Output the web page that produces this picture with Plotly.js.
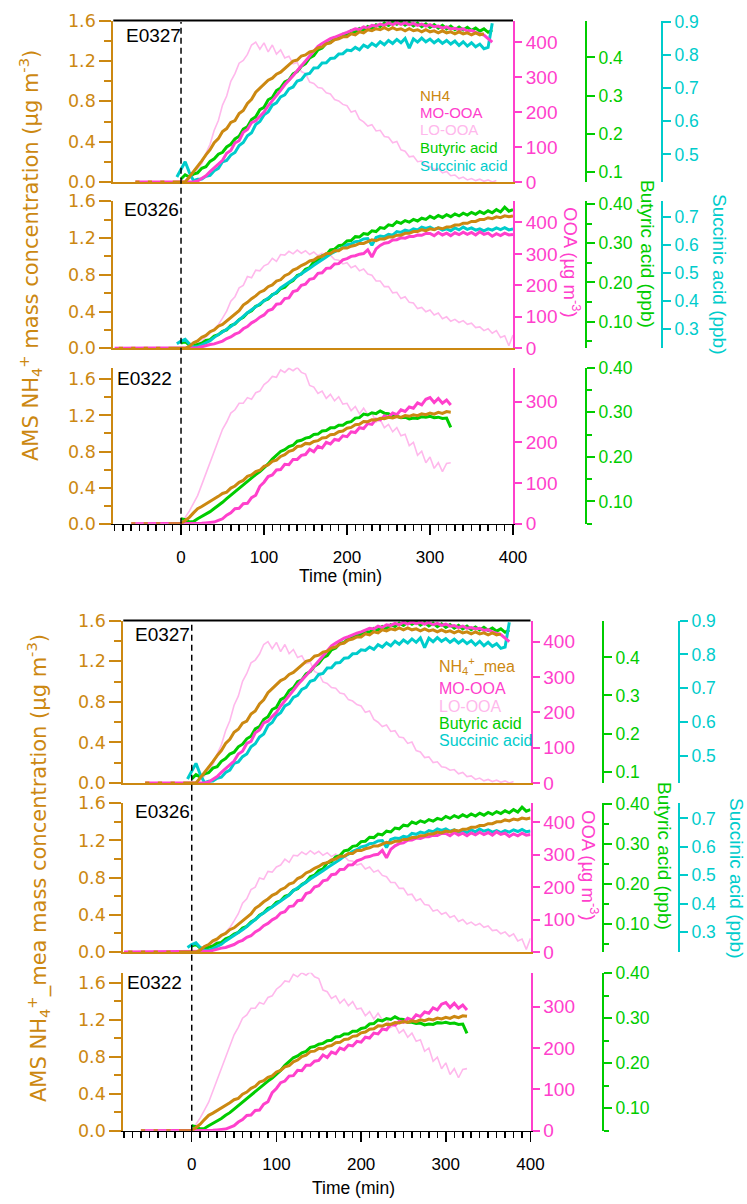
<!DOCTYPE html>
<html><head><meta charset="utf-8">
<script src="https://cdn.plot.ly/plotly-3.0.1.min.js"></script>
<style>html,body{margin:0;padding:0;background:#fff}#chart{width:747px;height:1204px}</style>
</head><body><div id="chart"></div>
<script>
const _ = null;
// time axis (min): -80..400 in 5-min steps
const TIME = [-80,-75,-70,-65,-60,-55,-50,-45,-40,-35,-30,-25,-20,-15,-10,-5,
 0,5,10,15,20,25,30,35,40,45,
 50,55,60,65,70,75,80,85,90,95,
 100,105,110,115,120,125,130,135,140,145,
 150,155,160,165,170,175,180,185,190,195,
 200,205,210,215,220,225,230,235,240,245,
 250,255,260,265,270,275,280,285,290,295,
 300,305,310,315,320,325,330,335,340,345,
 350,355,360,365,370,375,380,385,390,395,
 400];

// ---------- E0327 ----------
const E0327_NH4 = [_,_,_,_,_,0,0,_,0,0,_,0,0,_,0,0,
 0,0,0.05,0.10,0.16,0.21,0.27,0.32,0.39,0.43,
 0.50,0.53,0.59,0.61,0.68,0.71,0.78,0.82,0.89,0.93,
 0.97,1.01,1.03,1.07,1.09,1.13,1.16,1.20,1.21,1.25,
 1.26,1.29,1.30,1.33,1.34,1.37,1.38,1.41,1.42,1.44,
 1.44,1.47,1.46,1.49,1.48,1.51,1.50,1.52,1.51,1.53,
 1.51,1.53,1.51,1.52,1.50,1.52,1.50,1.51,1.49,1.51,
 1.49,1.50,1.48,1.50,1.48,1.49,1.47,1.49,1.47,1.48,
 1.46,1.48,1.46,1.47,_,_,_,_,_,_,
 _];
const E0327_MO = [_,_,_,_,_,0,0,0,0,0,0,0,0,0,0,0,
 0,0,0,0,3,10,18,30,40,52,
 62,82,90,112,118,142,150,170,175,188,
 200,218,232,248,262,278,290,304,318,332,
 346,362,374,388,396,404,410,414,420,424,
 428,434,438,436,444,440,448,446,452,448,
 455,450,456,451,455,450,454,448,452,446,
 450,444,446,440,444,438,440,436,438,432,
 434,428,425,420,410,400,_,_,_,_,
 _];
const E0327_LO = [_,_,_,_,_,_,_,_,_,_,_,_,_,_,_,_,
 0,0,8,20,38,52,82,108,148,176,
 220,246,288,310,340,348,365,392,400,380,
 398,372,392,366,378,355,360,338,342,316,
 310,286,282,270,268,255,252,236,232,222,
 218,200,204,180,172,160,164,146,148,130,
 128,112,116,92,88,72,74,58,60,46,
 44,36,38,26,30,18,20,10,14,6,
 10,4,8,2,6,0,4,_,_,_,
 _];
const E0327_BUT = [_,_,_,_,_,_,_,_,_,_,_,_,_,_,_,_,
 0.081,0.092,0.086,0.094,0.097,0.109,0.113,0.127,0.134,0.146,
 0.151,0.165,0.172,0.186,0.193,0.212,0.218,0.237,0.244,0.263,
 0.269,0.289,0.295,0.313,0.320,0.336,0.341,0.357,0.363,0.377,
 0.384,0.399,0.405,0.420,0.425,0.437,0.439,0.450,0.452,0.461,
 0.460,0.470,0.466,0.476,0.472,0.481,0.476,0.486,0.481,0.490,
 0.484,0.493,0.487,0.494,0.485,0.492,0.483,0.490,0.481,0.488,
 0.479,0.486,0.477,0.484,0.475,0.482,0.473,0.480,0.472,0.479,
 0.471,0.477,0.469,0.475,0.466,0.472,_,_,_,_,
 _];
const E0327_SUC = [_,_,_,_,_,_,_,_,_,_,_,_,_,_,_,0.432,
 0.456,0.478,0.446,0.421,0.425,0.426,0.434,0.437,0.451,0.458,
 0.478,0.482,0.498,0.506,0.527,0.536,0.556,0.565,0.590,0.599,
 0.619,0.628,0.648,0.655,0.673,0.679,0.697,0.703,0.721,0.725,
 0.741,0.744,0.760,0.761,0.775,0.776,0.789,0.790,0.802,0.803,
 0.814,0.812,0.822,0.815,0.829,0.822,0.834,0.826,0.839,0.830,
 0.843,0.834,0.846,0.836,0.849,0.820,0.848,0.838,0.850,0.839,
 0.847,0.836,0.845,0.834,0.843,0.832,0.841,0.828,0.839,0.826,
 0.836,0.824,0.832,0.818,0.822,0.895,_,_,_,_,
 _];

// ---------- E0326 ----------
const E0326_NH4 = [_,0,0,_,0,0,_,0,0,_,0,0,_,0,0,0,
 0,0,0.02,0.06,0.08,0.12,0.14,0.18,0.20,0.24,
 0.26,0.30,0.33,0.38,0.41,0.47,0.50,0.54,0.57,0.61,
 0.63,0.67,0.69,0.73,0.745,0.79,0.81,0.85,0.87,0.90,
 0.92,0.95,0.96,0.99,1.00,1.03,1.03,1.06,1.06,1.09,
 1.09,1.11,1.12,1.14,1.14,1.16,1.18,1.17,1.19,1.19,
 1.21,1.21,1.23,1.23,1.25,1.25,1.27,1.27,1.29,1.28,
 1.30,1.29,1.31,1.30,1.32,1.32,1.34,1.34,1.36,1.36,
 1.38,1.38,1.40,1.40,1.42,1.41,1.43,1.42,1.44,1.43,
 1.44];
const E0326_MO = [0,0,0,0,0,0,0,0,0,0,0,0,0,0,0,0,
 0,0,0,0,2,5,9,12,14,19,
 23,31,36,45,50,62,69,81,88,99,
 106,120,124,140,142,158,160,180,184,200,
 204,219,222,238,240,254,255,268,269,281,
 285,292,294,299,301,313,290,316,327,334,
 336,344,345,351,350,355,355,360,359,365,
 365,358,368,360,366,358,367,361,369,362,
 368,360,370,362,366,356,364,358,366,360,
 362];
const E0326_LO = [_,_,_,_,_,_,_,_,_,_,_,_,_,_,_,_,
 _,_,0,9,14,23,37,47,61,75,
 96,118,150,164,192,200,228,224,248,246,
 262,268,286,276,298,296,308,300,312,302,
 310,298,306,294,302,290,296,282,280,268,
 272,256,262,246,252,236,232,214,214,196,
 196,176,178,158,164,146,144,126,130,116,
 122,106,112,94,100,86,92,82,88,76,
 80,66,68,56,62,48,56,34,40,8,
 42];
const E0326_BUT = [_,_,_,_,_,_,_,_,_,_,_,_,_,_,_,_,
 0.045,0.049,0.040,0.039,0.042,0.045,0.052,0.054,0.063,0.067,
 0.075,0.079,0.090,0.094,0.105,0.111,0.122,0.128,0.139,0.143,
 0.154,0.158,0.169,0.173,0.184,0.188,0.199,0.205,0.218,0.222,
 0.234,0.238,0.253,0.256,0.268,0.271,0.283,0.285,0.294,0.296,
 0.306,0.307,0.317,0.316,0.325,0.323,0.332,0.330,0.340,0.338,
 0.347,0.345,0.355,0.351,0.358,0.354,0.361,0.357,0.364,0.361,
 0.369,0.364,0.371,0.366,0.373,0.368,0.375,0.370,0.377,0.372,
 0.379,0.374,0.381,0.376,0.383,0.378,0.386,0.380,0.392,0.382,
 0.386];
const E0326_SUC = [_,_,_,_,_,_,_,_,_,_,_,_,_,_,_,0.247,
 0.257,0.263,0.247,0.236,0.237,0.243,0.250,0.258,0.270,0.279,
 0.288,0.298,0.309,0.320,0.331,0.345,0.358,0.368,0.380,0.389,
 0.401,0.409,0.421,0.431,0.446,0.455,0.467,0.476,0.487,0.496,
 0.507,0.516,0.527,0.536,0.547,0.556,0.567,0.574,0.584,0.590,
 0.600,0.603,0.611,0.613,0.621,0.622,0.598,0.626,0.631,0.629,
 0.637,0.634,0.647,0.644,0.652,0.648,0.657,0.653,0.663,0.658,
 0.663,0.655,0.660,0.652,0.657,0.650,0.660,0.653,0.663,0.655,
 0.660,0.652,0.657,0.650,0.657,0.652,0.660,0.654,0.661,0.653,
 0.656];

// ---------- E0322 ----------
const E0322_NH4 = [_,_,_,_,0,0,_,0,0,_,0,0,_,0,0,0,
 0,0.035,0.07,0.12,0.166,0.19,0.216,0.242,0.277,0.303,
 0.335,0.35,0.395,0.418,0.458,0.48,0.525,0.54,0.578,0.592,
 0.635,0.652,0.69,0.704,0.745,0.764,0.802,0.816,0.855,0.86,
 0.89,0.885,0.912,0.92,0.95,0.955,0.987,0.99,1.02,1.027,
 1.058,1.067,1.097,1.102,1.133,1.131,1.152,1.149,1.169,1.164,
 1.18,1.171,1.188,1.178,1.198,1.19,1.207,1.198,1.218,1.208,
 1.225,1.214,1.235,1.222,1.242,1.236,_,_,_,_,
 _,_,_,_,_,_,_,_,_,_,
 _];
const E0322_MO = [_,_,_,_,0,0,0,0,0,0,0,0,0,0,0,0,
 0,0,0,0,0,1,2,3,4,8,
 12,21,27,37,38,49,50,64,70,92,
 102,116,120,132,133,146,145,158,158,168,
 170,183,177,190,186,200,196,207,205,216,
 214,226,224,236,234,246,244,257,255,265,
 262,272,268,280,276,287,284,297,292,306,
 310,298,308,296,304,292,_,_,_,_,
 _,_,_,_,_,_,_,_,_,_,
 _];
const E0322_LO = [_,_,_,_,_,_,_,_,_,_,_,_,_,_,_,_,
 0,15,31,50,69,96,123,154,177,204,
 232,250,272,280,296,296,310,306,322,326,
 342,350,362,360,378,372,382,376,384,372,
 368,340,336,320,326,308,318,302,312,294,
 296,278,288,270,284,268,272,250,256,236,
 244,226,236,216,220,192,200,168,178,150,
 164,136,150,128,148,150,_,_,_,_,
 _,_,_,_,_,_,_,_,_,_,
 _];
const E0322_BUT = [_,_,_,_,_,_,_,_,_,_,_,_,_,_,_,_,
 0.061,0.059,0.054,0.055,0.061,0.066,0.071,0.077,0.084,0.090,
 0.098,0.106,0.114,0.121,0.130,0.137,0.145,0.153,0.160,0.167,
 0.175,0.184,0.195,0.203,0.212,0.216,0.223,0.226,0.235,0.237,
 0.242,0.244,0.250,0.251,0.258,0.259,0.265,0.265,0.271,0.271,
 0.277,0.279,0.287,0.288,0.296,0.294,0.299,0.297,0.303,0.298,
 0.297,0.291,0.291,0.288,0.289,0.285,0.287,0.286,0.290,0.289,
 0.291,0.288,0.289,0.286,0.287,0.266,_,_,_,_,
 _,_,_,_,_,_,_,_,_,_,
 _];

const LABELS = ['NH4','MO-OOA','LO-OOA','Butyric acid','Succinic acid'];
const X_TICKS = [0,100,200,300,400];

const SERIES = {
  E0327:{nh:E0327_NH4, mo:E0327_MO, lo:E0327_LO, bu:E0327_BUT, su:E0327_SUC},
  E0326:{nh:E0326_NH4, mo:E0326_MO, lo:E0326_LO, bu:E0326_BUT, su:E0326_SUC},
  E0322:{nh:E0322_NH4, mo:E0322_MO, lo:E0322_LO, bu:E0322_BUT, su:null}
};

// ---------- styling / layout ----------
const C_NH = '#CC8811', C_MO = '#FF40CC', C_LO = '#FFB8EC', C_BU = '#00CC00', C_SU = '#00CCCC';
const FONT = 'Liberation Sans, Arial, sans-serif';
const WFONT = 'DejaVu Sans, Liberation Sans, sans-serif';
const W = 747, H = 1204;
const PX = p => p / W, PY = p => 1 - p / H;

const FIGS = [
 { xl:113.3, xr:513, xrange:[-81.6,400], buX:586, suX:662,
   time:{x:340,y:576}, ytitle:{x:30,y:256,text:'AMS NH<sub>4</sub><sup>+</sup> mass concentration (µg m<sup>-3</sup>)'},
   leg:{x:418, ys:[96,113,130,147.5,165], size:15, nh:'NH4'},
   titles:{oo:[572,262], bu:[648,254], su:[720,274]},
   panels:[
     {top:20.5, bot:182, nh:[0,1.602], oo:[0,462], bu:[0.073,0.497], su:[0.417,0.903], key:'E0327', lx:124, ly:36},
     {top:201, bot:348.3, nh:[0,1.602], oo:[0,468], bu:[0.032,0.408], su:[0.231,0.756], key:'E0326', lx:122, ly:210},
     {top:367.5, bot:523.7, nh:[0,1.731], oo:[0,384], bu:[0.0499,0.4005], su:null, key:'E0322', lx:115, ly:378}
   ]},
 { xl:123.3, xr:530.5, xrange:[-80.8,400], buX:603, suX:679,
   time:{x:353,y:1188}, ytitle:{x:38,y:868,text:'AMS NH<sub>4</sub><sup>+</sup>_mea mass concentration (µg m<sup>-3</sup>)'},
   leg:{x:437, ys:[666,688.5,706,723.5,741], size:16, nh:'NH<sub>4</sub><sup>+</sup>_mea'},
   titles:{oo:[590,865], bu:[665,856], su:[736,878]},
   panels:[
     {top:620.5, bot:783, nh:[0,1.602], oo:[0,460], bu:[0.070,0.497], su:[0.42,0.9005], key:'E0327', lx:133, ly:634.5},
     {top:803, bot:952, nh:[0,1.602], oo:[0,459], bu:[0.03,0.4025], su:[0.231,0.754], key:'E0326', lx:133, ly:811},
     {top:972.7, bot:1130.7, nh:[0,1.708], oo:[0,382], bu:[0.0499,0.401], su:null, key:'E0322', lx:125, ly:982}
   ]}
];

const layout = {width:W, height:H, margin:{l:0,r:0,t:0,b:0}, showlegend:false,
  paper_bgcolor:'#fff', plot_bgcolor:'rgba(0,0,0,0)', annotations:[], shapes:[]};
const data = [];
let yN = 0, xN = 0;
const sfx = n => (n === 1 ? '' : String(n));

const xMinor = [];
for (let v = -80; v <= 400; v += 10) if (v % 100 !== 0) xMinor.push(v);

function ann(text, x, y, color, size, opts) {
  layout.annotations.push(Object.assign({text, xref:'paper', yref:'paper', x:PX(x), y:PY(y),
    showarrow:false, xanchor:'center', yanchor:'middle', font:{family:FONT, size, color}}, opts || {}));
}

FIGS.forEach((fig, fi) => {
  let firstX = null;
  fig.panels.forEach((p, pi) => {
    const isBottom = pi === 2;
    const xi = ++xN; const xid = 'x' + sfx(xi);
    if (firstX === null) firstX = xid;
    const yb = ++yN;
    const xa = {domain:[PX(fig.xl), PX(fig.xr)], range:fig.xrange, anchor:'y' + sfx(yb),
      showline:true, linecolor:isBottom ? '#000' : C_NH, linewidth:isBottom ? 1.5 : 2,
      showgrid:false, zeroline:false, showticklabels:isBottom, ticks:isBottom ? 'outside' : ''};
    if (isBottom) {
      Object.assign(xa, {tickmode:'array', tickvals:X_TICKS, ticktext:X_TICKS.map(String),
        ticklen:10, tickwidth:1.5, tickcolor:'#000', ticklabelstandoff:7,
        tickfont:{family:FONT, size:17, color:'#000'},
        minor:{tickmode:'array', tickvals:xMinor, ticks:'outside', ticklen:6, tickwidth:1.5, tickcolor:'#000'}});
    }
    layout['xaxis' + sfx(xi)] = xa;

    const ooT = isBottom ? [0,100,200,300] : [0,100,200,300,400];
    layout['yaxis' + sfx(yb)] = {domain:[PY(p.bot), PY(p.top)], range:p.oo, anchor:xid, side:'right',
      showline:true, linecolor:C_MO, linewidth:2, ticks:'outside', ticklen:7, tickwidth:2, tickcolor:C_MO,
      tickmode:'array', tickvals:ooT, ticktext:ooT.map(String),
      tickfont:{family:FONT, size:19, color:C_MO}, showgrid:false, zeroline:false};
    const base = 'y' + sfx(yb);

    const yg = ++yN;
    const buT = [0.1,0.2,0.3,0.4];
    const ga = {overlaying:base, anchor:'free', position:PX(fig.buX), side:'right', range:p.bu,
      showline:true, linecolor:C_BU, linewidth:2, ticks:'outside', ticklen:8, tickwidth:2, tickcolor:C_BU,
      tickmode:'array', tickvals:buT, ticktext:buT.map(v => pi === 0 ? v.toFixed(1) : v.toFixed(2)),
      tickfont:{family:FONT, size:17.5, color:C_BU}, showgrid:false, zeroline:false};
    if (pi > 0) ga.minor = {tickmode:'array', tickvals:[0.05,0.15,0.25,0.35], ticks:'outside', ticklen:5, tickwidth:2, tickcolor:C_BU};
    layout['yaxis' + sfx(yg)] = ga;

    let ys = null;
    if (p.su) {
      ys = ++yN;
      const suT = pi === 0 ? [0.5,0.6,0.7,0.8,0.9] : [0.3,0.4,0.5,0.6,0.7];
      layout['yaxis' + sfx(ys)] = {overlaying:base, anchor:'free', position:PX(fig.suX), side:'right', range:p.su,
        showline:true, linecolor:C_SU, linewidth:2, ticks:'outside', ticklen:8, tickwidth:2, tickcolor:C_SU,
        tickmode:'array', tickvals:suT, ticktext:suT.map(v => v.toFixed(1)),
        tickfont:{family:FONT, size:17.5, color:C_SU}, showgrid:false, zeroline:false};
    }
    const ym = ++yN;
    layout['yaxis' + sfx(ym)] = {overlaying:base, anchor:xid, range:p.oo, visible:false, showgrid:false, zeroline:false};
    const yn = ++yN;
    const nhT = [0,0.4,0.8,1.2,1.6];
    layout['yaxis' + sfx(yn)] = {overlaying:base, anchor:xid, side:'left', range:p.nh,
      showline:true, linecolor:C_NH, linewidth:2, ticks:'outside', ticklen:12, tickwidth:2, tickcolor:C_NH,
      tickmode:'array', tickvals:nhT, ticktext:nhT.map(v => v.toFixed(1)),
      tickfont:{family:WFONT, size:17.5, color:C_NH}, showgrid:false, zeroline:false,
      minor:{tickmode:'array', tickvals:[0.2,0.6,1.0,1.4], ticks:'outside', ticklen:7, tickwidth:2, tickcolor:C_NH}};

    const S = SERIES[p.key];
    const tr = (y, ax, color, width) => ({x:TIME, y, xaxis:xid, yaxis:'y' + sfx(ax), type:'scatter', mode:'lines',
      line:{color, width}, connectgaps:false, hoverinfo:'skip'});
    data.push(tr(S.lo, yb, C_LO, 1.6));
    data.push(tr(S.bu, yg, C_BU, 3));
    if (S.su && ys) data.push(tr(S.su, ys, C_SU, 3));
    data.push(tr(S.mo, ym, C_MO, 3));
    data.push(tr(S.nh, yn, C_NH, 3));

    ann(p.key, p.lx, p.ly, '#000', 19, {xanchor:'left'});
    if (pi === 0) {
      layout.shapes.push({type:'line', xref:'paper', yref:'paper', x0:PX(fig.xl), x1:PX(fig.xr),
        y0:PY(p.top), y1:PY(p.top), line:{color:'#000', width:2}});
    }
  });

  const p0 = fig.panels[0], p2 = fig.panels[2];
  layout.shapes.push({type:'line', xref:firstX, yref:'paper', x0:0, x1:0, y0:PY(p2.bot), y1:PY(p0.top + 1.5),
    line:{color:'#000', width:1.5, dash:'6px,4px'}});

  const legColors = [C_NH, C_MO, C_LO, C_BU, C_SU];
  LABELS.forEach((t, k) => ann(k === 0 ? fig.leg.nh : t, fig.leg.x, fig.leg.ys[k], legColors[k], fig.leg.size, {xanchor:'left'}));

  ann('OOA (µg m<sup>-3</sup>)', fig.titles.oo[0], fig.titles.oo[1], C_MO, 18.5, {textangle:90});
  ann('Butyric acid (ppb)', fig.titles.bu[0], fig.titles.bu[1], C_BU, 19, {textangle:90});
  ann('Succinic acid (ppb)', fig.titles.su[0], fig.titles.su[1], C_SU, 19, {textangle:90});
  ann(fig.ytitle.text, fig.ytitle.x, fig.ytitle.y, C_NH, 21, {textangle:-90, font:{family:WFONT, size:21, color:C_NH}});
  ann('Time (min)', fig.time.x, fig.time.y, '#000', 17.5);
});

Plotly.newPlot('chart', data, layout, {displayModeBar:false, staticPlot:true});
</script>
</body></html>
